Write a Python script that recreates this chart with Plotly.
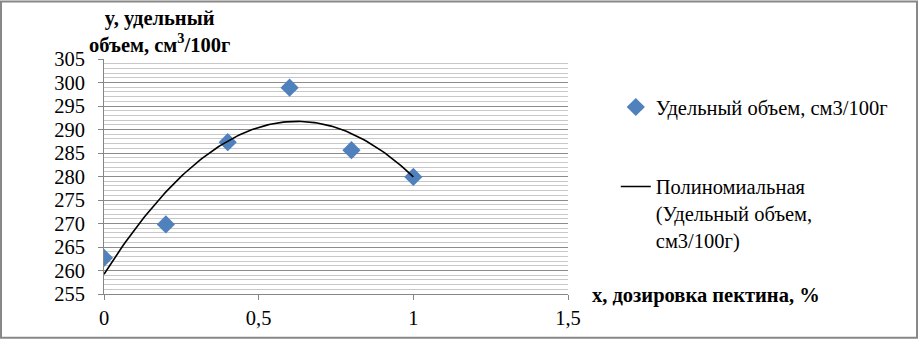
import numpy as np
import plotly.graph_objects as go

# Data
x_dose = [0, 0.2, 0.4, 0.6, 0.8, 1.0]
y_volume = [262.7, 269.8, 287.3, 298.9, 285.6, 279.9]
series_name = "Удельный объем, см3/100г"
trend_name = "Полиномиальная<br>(Удельный объем,<br>см3/100г)"
y_title = "y, удельный<br>объем, см<sup>3</sup>/100г"
x_title = "x, дозировка пектина, %"

# Polynomial (2nd order) trendline fitted to the data
coef = np.polyfit(x_dose, y_volume, 2)
xt = np.linspace(min(x_dose), max(x_dose), 120)
yt = np.polyval(coef, xt)

FONT = "Liberation Serif"
FS = 20.5

fig = go.Figure()
fig.add_trace(go.Scatter(
    x=x_dose, y=y_volume, mode="markers", name=series_name,
    marker=dict(symbol="diamond", size=14, color="#4F81BD"),
    legend="legend",
))
fig.add_trace(go.Scatter(
    x=xt, y=yt, mode="lines", name=trend_name,
    line=dict(color="black", width=1.6),
    legend="legend2",
))

fig.update_layout(
    width=919, height=341,
    margin=dict(l=104, r=351, t=59, b=45),
    paper_bgcolor="white", plot_bgcolor="white",
    separators=", ",
    font=dict(family=FONT, size=FS, color="black"),
    showlegend=True,
    legend=dict(x=1.103, y=0.88, xanchor="left", yanchor="top",
                font=dict(family=FONT, size=FS), bgcolor="rgba(0,0,0,0)"),
    legend2=dict(x=1.103, y=0.542, xanchor="left", yanchor="top", valign="top",
                 font=dict(family=FONT, size=FS), bgcolor="rgba(0,0,0,0)"),
    xaxis=dict(range=[0, 1.5], dtick=0.5, tick0=0, showgrid=False,
               zeroline=False, showline=True, linecolor="#868686", linewidth=1,
               ticks="outside", ticklen=5, tickcolor="#868686",
               tickfont=dict(family=FONT, size=FS)),
    yaxis=dict(range=[255, 305], dtick=5, tick0=255, showgrid=True,
               gridcolor="#8c8c8c", gridwidth=1,
               minor=dict(dtick=1, showgrid=True, gridcolor="#c8c8c8", gridwidth=1),
               zeroline=False, showline=True, linecolor="#868686", linewidth=1,
               ticks="outside", ticklen=5, tickcolor="#868686",
               ticklabelstandoff=9,
               tickfont=dict(family=FONT, size=FS)),
    shapes=[dict(type="rect", xref="paper", yref="paper",
                 x0=-104/464 + 1/464, x1=(919-104)/464 - 2/464,
                 y0=-45/237 + 1/237, y1=1 + 59/237 - 1/237,
                 line=dict(color="#888888", width=2))],
    annotations=[
        dict(text="<b>" + y_title + "</b>", xref="paper", yref="paper",
             x=(159-104)/464, y=1 + (59-31)/237,
             xanchor="center", yanchor="middle", showarrow=False,
             font=dict(family=FONT, size=FS, color="black"), align="center"),
        dict(text="<b>" + x_title + "</b>", xref="paper", yref="paper",
             x=(590-104)/464, y=(296-298)/237, xanchor="left", yanchor="middle",
             showarrow=False, font=dict(family=FONT, size=FS, color="black")),
    ],
)

fig.write_html("out.html", config={"displayModeBar": False},
               post_script="document.body.style.margin='0px';")
